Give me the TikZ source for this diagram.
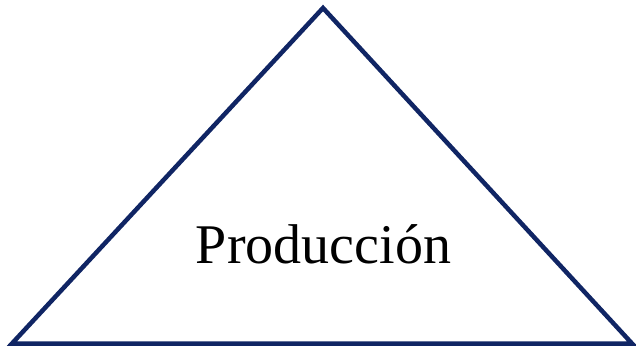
\documentclass[tikz,border=0pt]{standalone}
\usepackage{fontspec}
\setmainfont{Liberation Serif}
\definecolor{navy}{RGB}{16,37,100}
\begin{document}
\begin{tikzpicture}[x=1pt,y=-1pt,
  tri/.style={draw=navy,line width=4.5pt,line join=miter},
  lbl/.style={font=\fontsize{56}{60}\selectfont,inner sep=0pt,anchor=base}]
\useasboundingbox (0,0) rectangle (636,350);
\coordinate (top) at (323,8);
\coordinate (bl) at (12,343.5);
\coordinate (br) at (632,343.5);
\draw[tri] (top) -- (br) -- (bl) -- cycle;
\node[lbl] (t) at (323.5,263) {Producción};
\end{tikzpicture}
\end{document}
